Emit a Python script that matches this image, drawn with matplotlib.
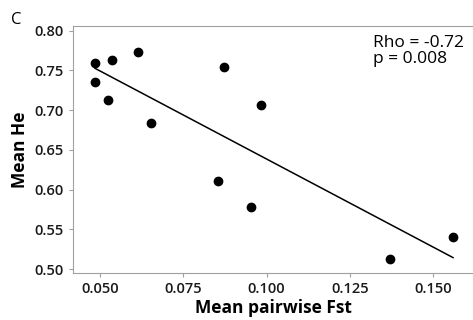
import numpy as np
import matplotlib
matplotlib.use("Agg")
import matplotlib.pyplot as plt

# mean pairwise Fst vs mean expected heterozygosity
fst = [0.0485, 0.0485, 0.0535, 0.0614, 0.0525, 0.0654,
       0.0873, 0.0853, 0.0982, 0.0953, 0.1371, 0.1560]
he = [0.760, 0.735, 0.763, 0.773, 0.713, 0.684,
      0.755, 0.611, 0.706, 0.578, 0.5125, 0.540]
xticks = [0.050, 0.075, 0.100, 0.125, 0.150]
yticks = [0.50, 0.55, 0.60, 0.65, 0.70, 0.75, 0.80]

plt.rcParams['font.family'] = ['Open Sans', 'DejaVu Sans']

fig = plt.figure(figsize=(4.73, 3.2), dpi=100)
ax = fig.add_axes([73/473, 47/320, 1 - 73/473, (273-26)/320])

x = np.array(fst)
y = np.array(he)
ax.scatter(x, y, s=36, color='black', zorder=3)

# least squares fit line
b, a = np.polyfit(x, y, 1)
xl = np.array([x.min(), x.max()])
ax.plot(xl, a + b*xl, color='black', lw=1.1)

ax.set_xlim(0.0419, 0.162)
ax.set_ylim(0.495, 0.806)
ax.set_xticks(xticks)
ax.set_xticklabels(['%.3f' % t for t in xticks])
ax.set_yticks(yticks)
ax.set_yticklabels(['%.2f' % t for t in yticks])

for s in ['left', 'bottom', 'top']:
    ax.spines[s].set_color('#a0a0a0')
ax.spines['right'].set_visible(False)
ax.tick_params(colors='#a0a0a0', labelcolor='#1a1a1a', labelsize=10.5, length=3, width=0.8)
for lab in ax.get_xticklabels() + ax.get_yticklabels():
    lab.set_fontweight('semibold')

ax.set_xlabel('Mean pairwise Fst', fontsize=12.5, fontweight='bold', labelpad=2)
ax.set_ylabel('Mean He', fontsize=12.5, fontweight='bold', labelpad=4)

ax.text(0.75, 0.965, 'Rho = -0.72\np = 0.008', transform=ax.transAxes,
        fontsize=12.5, va='top', ha='left', linespacing=1.05)
fig.text(11/473, 1 - 20/320, 'C', fontsize=12, va='center', ha='left')

fig.savefig('out.png', dpi=100)
